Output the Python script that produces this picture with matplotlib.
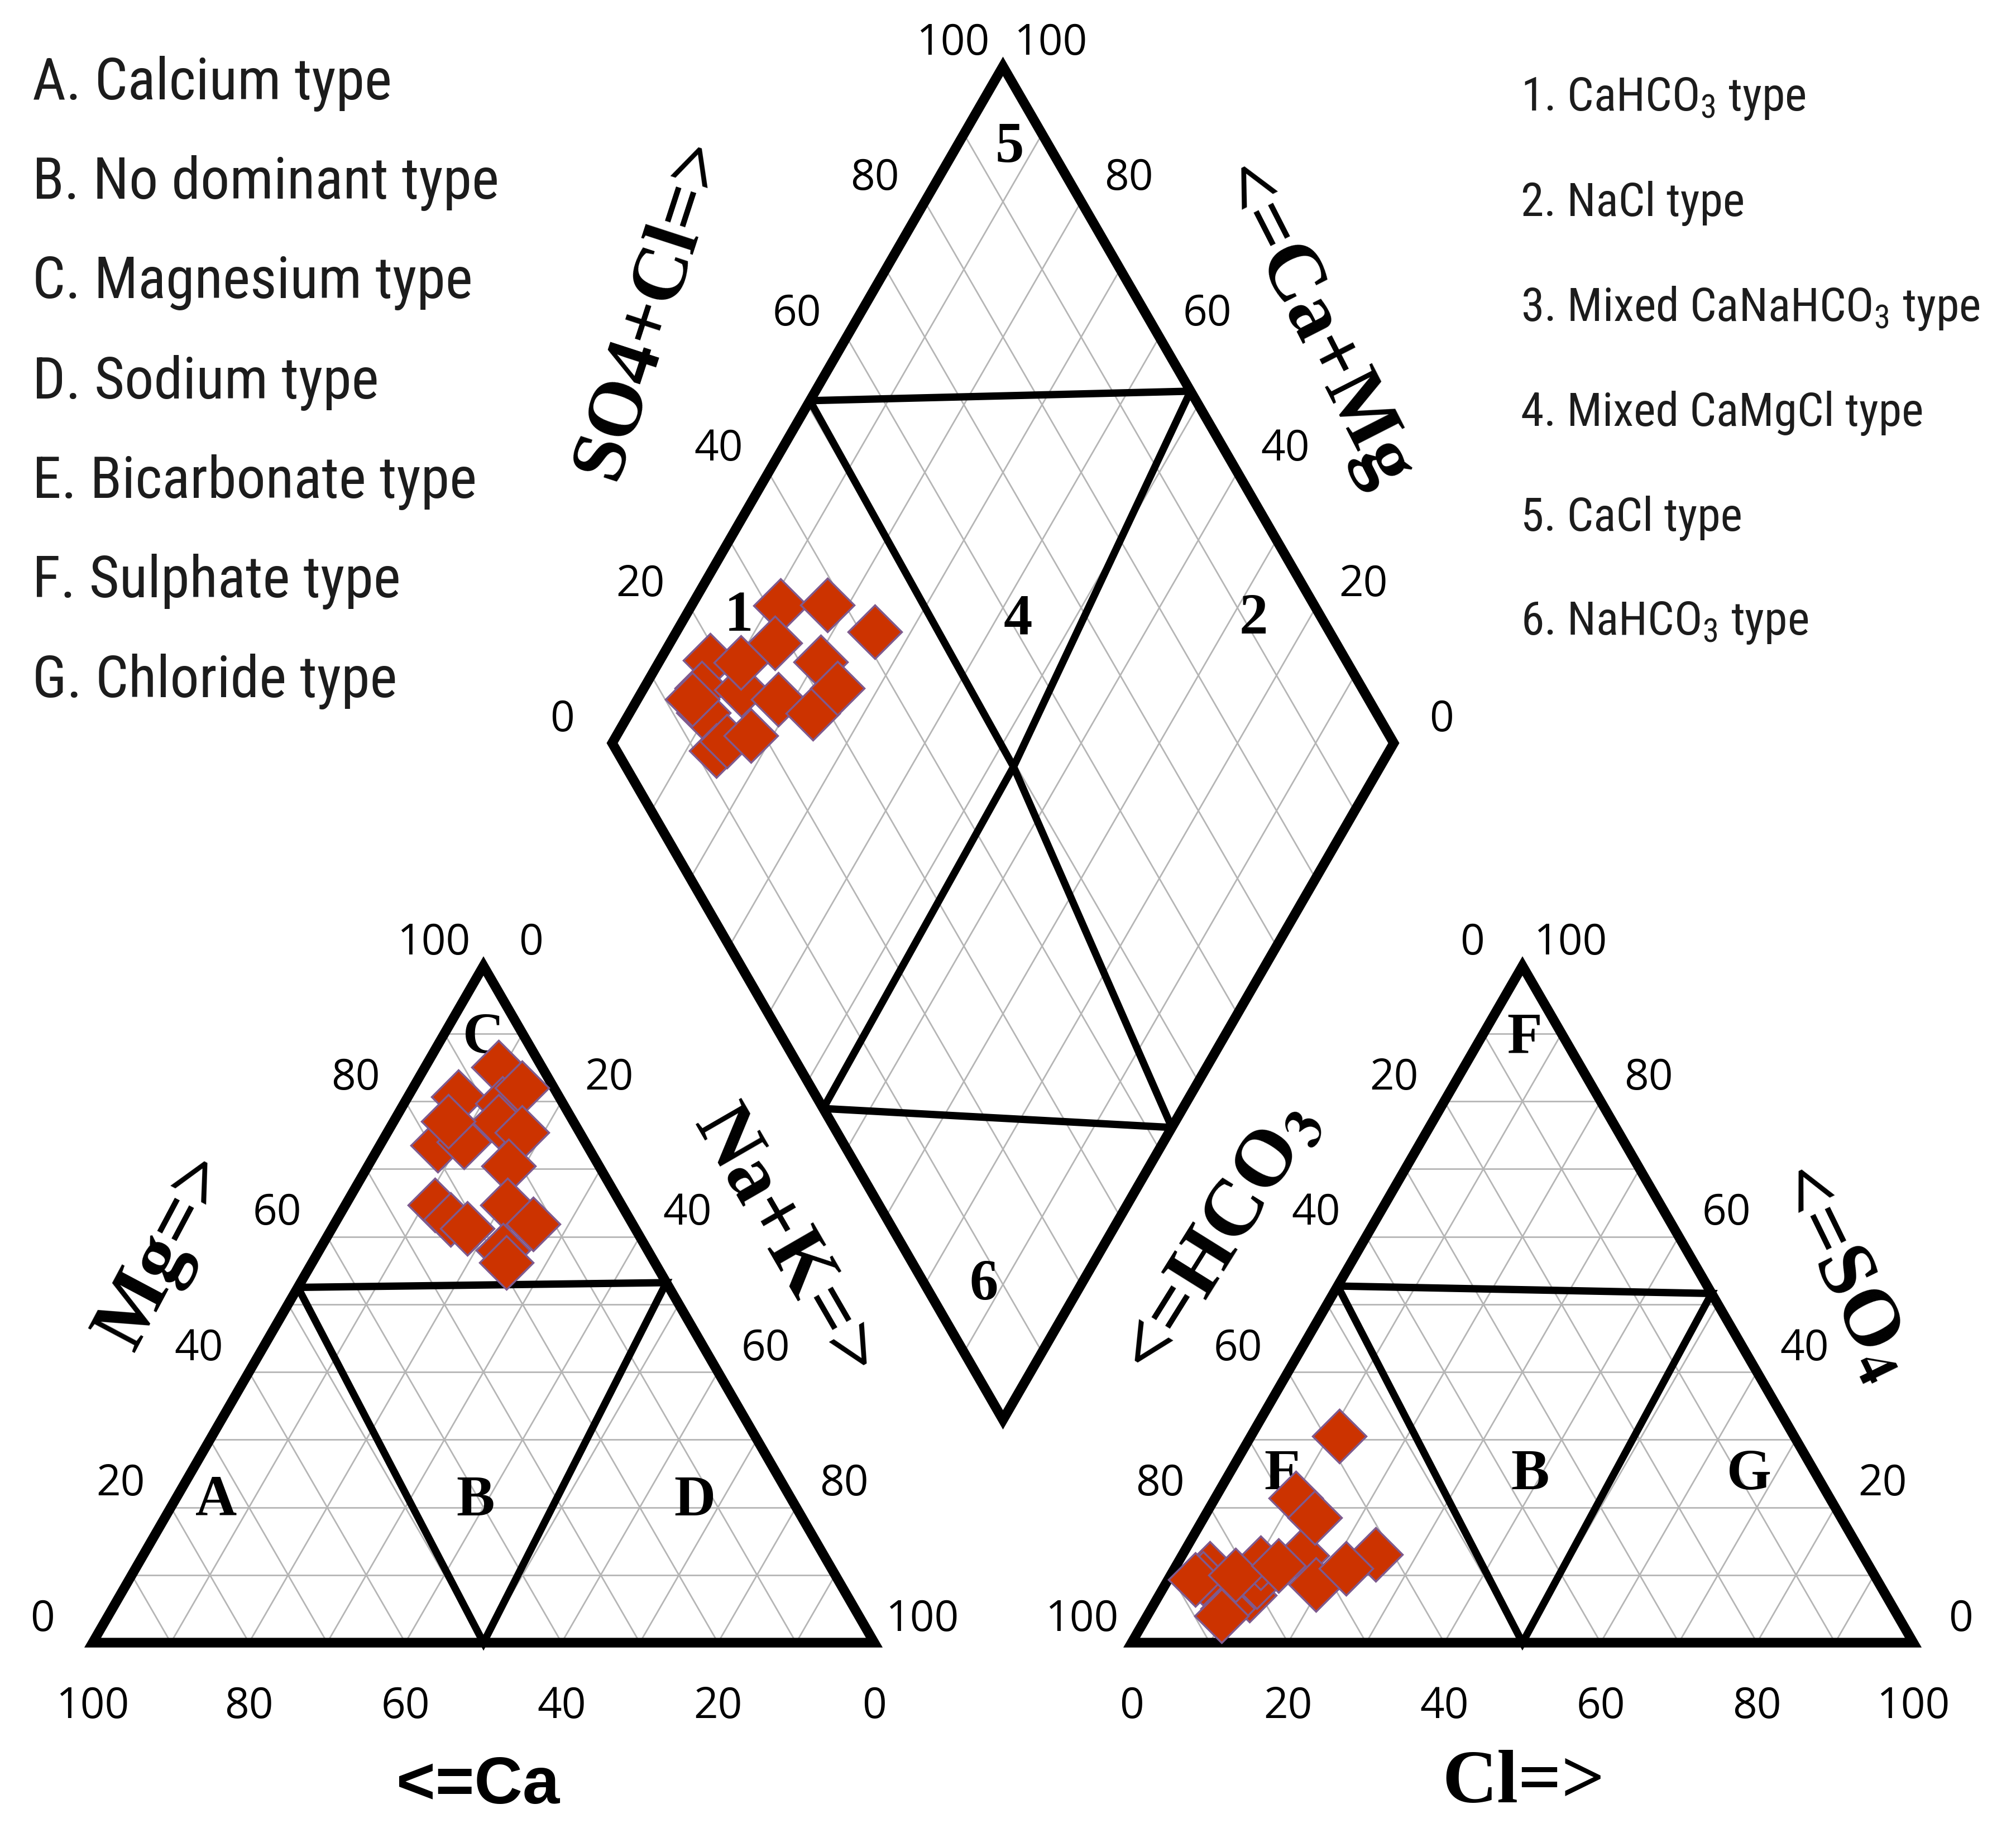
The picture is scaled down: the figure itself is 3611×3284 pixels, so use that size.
import numpy as np
import matplotlib
matplotlib.use("Agg")
import matplotlib.pyplot as plt
from matplotlib import font_manager as fm
from matplotlib.patches import Polygon

# ---------------- data: ionic composition (% of meq/L) ----------------
Ca   = [12.9, 19.1, 5.6, 23.9, 7.7, 9.6, 15.5, 4.1, 23.0, 7.4, 21.5, 11.6, 14.6, 16.0, 18.5, 19.0, 12.7]
Mg   = [80.7, 73.5, 85.0, 64.7, 79.7, 77.0, 74.0, 82.0, 62.5, 75.4, 61.2, 70.4, 64.7, 77.0, 58.0, 56.2, 61.9]
NaK  = [6.4, 7.4, 9.4, 11.4, 12.6, 13.4, 10.5, 13.9, 14.5, 17.2, 17.3, 18.0, 20.7, 7.0, 23.5, 24.8, 25.4]
HCO3 = [81.4, 84.5, 86.1, 68.3, 79.5, 71.8, 77.6, 87.2, 85.2, 81.7, 62.3, 75.5, 67.3, 86.5, 72.1, 67.1, 58.2]
SO4  = [7.0, 11.0, 9.5, 21.4, 9.0, 12.9, 11.8, 9.3, 5.0, 10.0, 13.0, 11.4, 18.5, 4.0, 8.6, 11.0, 30.5]
Cl   = [11.6, 4.5, 4.4, 10.3, 11.5, 15.3, 10.6, 3.5, 9.8, 8.3, 24.7, 13.1, 14.2, 9.5, 19.3, 21.9, 11.3]

tick_values = [0, 20, 40, 60, 80, 100]

# boundaries of the hydrochemical facies as drawn in the figure (%)
cat_split_left, cat_split_right = 52.5, 53.2      # Mg on left / right edge
an_split_left, an_split_right = 52.7, 51.6        # SO4 on left / right edge
dia_top_left_s, dia_top_right_camg = 50.6, 52.0
dia_cross_n, dia_cross_s = 53.1, 49.6
dia_bot_left_n, dia_bot_right_s = 54.0, 43.2

legend_left = ["A. Calcium type", "B. No dominant type", "C. Magnesium type",
               "D. Sodium type", "E. Bicarbonate type", "F. Sulphate type",
               "G. Chloride type"]
legend_right = ["1. CaHCO$_3$ type", "2. NaCl type", "3. Mixed CaNaHCO$_3$ type",
                "4. Mixed CaMgCl type", "5. CaCl type", "6. NaHCO$_3$ type"]

# ---------------- fonts ----------------
entries = fm.fontManager.ttflist
narrow_family, narrow_stretch = None, "normal"
for key in ("Liberation Sans Narrow", "Roboto Condensed", "Open Sans Condensed",
            "Noto Sans Condensed", "DejaVu Sans Condensed"):
    if any(f.name == key for f in entries):
        narrow_family = key
        break
if narrow_family is None:
    for f in entries:
        if ("Narrow" in f.name or "Condensed" in f.name) and f.style == "normal":
            narrow_family = f.name
            break
if narrow_family is None:
    for pref in ("DejaVu Sans", "Noto Sans", "Open Sans", "Roboto"):
        hit = [f for f in entries if f.name == pref and f.stretch in
               ("condensed", "semi-condensed", "extra-condensed")
               and f.style == "normal" and f.weight in (400, "normal", "regular", "book")]
        if hit:
            narrow_family, narrow_stretch = pref, hit[0].stretch
            break
if narrow_family is None:
    narrow_family = "Liberation Sans"

NARROW = dict(family=narrow_family, stretch=narrow_stretch)
pattern = narrow_family if narrow_stretch == "normal" else f"{narrow_family}:{narrow_stretch}"
plt.rcParams["mathtext.fontset"] = "custom"
plt.rcParams["mathtext.rm"] = pattern
plt.rcParams["mathtext.it"] = pattern
plt.rcParams["mathtext.bf"] = pattern + ":bold"
SERIF = "Liberation Serif"
TICKF = "Open Sans"

# ---------------- geometry ----------------
S3 = np.sqrt(3) / 2
GAP = 32.93


def cat_xy(na, mg):
    na = np.asarray(na, float); mg = np.asarray(mg, float)
    return na + mg / 2, mg * S3


def an_xy(cl, so4):
    cl = np.asarray(cl, float); so4 = np.asarray(so4, float)
    return 100 + GAP + cl + so4 / 2, so4 * S3


BX, BY = 100 + GAP / 2, GAP * S3
LX, LY = BX - 50, BY + 100 * S3


def dia_xy(n, s):
    n = np.asarray(n, float); s = np.asarray(s, float)
    return LX + 0.5 * (n + s), LY + S3 * (s - n)


fig = plt.figure(figsize=(36.11, 32.84), dpi=100)
ax = fig.add_axes([0, 0, 1, 1])
ax.set_xlim(-166 / 14, (3611 - 166) / 14)
ax.set_ylim(-(3284 - 2943) / 14, 2943 / 14)
ax.axis("off")
renderer = fig.canvas.get_renderer()

GRID = dict(color="#b5b5b5", lw=2.0, zorder=1)
BOUND = dict(color="black", lw=9.5, zorder=3, solid_capstyle="round")
OUTLW = 12.5

# ---------------- grids ----------------
for k in range(10, 100, 10):
    for f in (cat_xy, an_xy):
        x, y = f([0, 100 - k], [k, k]); ax.plot(x, y, **GRID)
        x, y = f([k, k], [0, 100 - k]); ax.plot(x, y, **GRID)
        x, y = f([100 - k, 0], [0, 100 - k]); ax.plot(x, y, **GRID)
    x, y = dia_xy([k, k], [0, 100]); ax.plot(x, y, **GRID)
    x, y = dia_xy([0, 100], [k, k]); ax.plot(x, y, **GRID)

# ---------------- outlines ----------------
for f in (cat_xy, an_xy):
    x, y = f([0, 100, 0], [0, 0, 100])
    ax.add_patch(Polygon(np.column_stack([x, y]), closed=True, fill=False,
                         lw=OUTLW, ec="black", joinstyle="miter", zorder=4))
x, y = dia_xy([0, 100, 100, 0], [0, 0, 100, 100])
ax.add_patch(Polygon(np.column_stack([x, y]), closed=True, fill=False,
                     lw=OUTLW, ec="black", joinstyle="miter", zorder=4))

# ---------------- facies boundaries ----------------
x, y = cat_xy([0, 100 - cat_split_right, 50, 0],
              [cat_split_left, cat_split_right, 0, cat_split_left])
ax.plot(x, y, solid_joinstyle="miter", **BOUND)
x, y = an_xy([0, 100 - an_split_right, 50, 0],
             [an_split_left, an_split_right, 0, an_split_left])
ax.plot(x, y, solid_joinstyle="miter", **BOUND)
x, y = dia_xy([0, 100 - dia_top_right_camg], [dia_top_left_s, 100]); ax.plot(x, y, **BOUND)
x, y = dia_xy([0, dia_cross_n, 100], [dia_top_left_s, dia_cross_s, dia_bot_right_s]); ax.plot(x, y, **BOUND)
x, y = dia_xy([100 - dia_top_right_camg, dia_cross_n, dia_bot_left_n], [100, dia_cross_s, 0]); ax.plot(x, y, **BOUND)
x, y = dia_xy([dia_bot_left_n, 100], [0, dia_bot_right_s]); ax.plot(x, y, **BOUND)

# ---------------- tick labels ----------------
TK = dict(fontsize=55, family=TICKF, ha="center", va="center", zorder=6)
OFF_L = (-6.4, 2.95)
OFF_R = (6.1, 2.95)
for v in tick_values:
    x, y = cat_xy(100 - v, 0); ax.text(x, y - 8.2, str(v), **TK)                 # Ca
    x, y = cat_xy(0, v); ax.text(x + OFF_L[0], y + OFF_L[1], str(v), **TK)         # Mg
    x, y = cat_xy(v, 100 - v); ax.text(x + OFF_R[0], y + OFF_R[1], str(v), **TK)   # Na+K
    x, y = an_xy(v, 0); ax.text(x, y - 8.2, str(v), **TK)                          # Cl
    x, y = an_xy(0, 100 - v); ax.text(x + OFF_L[0], y + OFF_L[1], str(v), **TK)    # HCO3
    x, y = an_xy(100 - v, v); ax.text(x + OFF_R[0], y + OFF_R[1], str(v), **TK)    # SO4
    x, y = dia_xy(0, v); ax.text(x + OFF_L[0], y + OFF_L[1], str(v), **TK)         # SO4+Cl
    x, y = dia_xy(100 - v, 100); ax.text(x + OFF_R[0], y + OFF_R[1], str(v), **TK) # Ca+Mg

# ---------------- axis titles ----------------
AT = dict(fontsize=104, family=SERIF, fontweight="bold", ha="center", va="center",
          zorder=6, math_fontfamily="stix")
ax.text(49.3, -18.4, "<=Ca", fontsize=86, family="Liberation Sans", fontweight="bold",
        ha="center", va="center", zorder=6)
ax.text(183.1, -18.1, "Cl=>", **{**AT, "fontsize": 98})
ax.text(9.4, 50.0, "Mg=>", rotation=62, **AT)
ax.text(88.5, 51.1, "Na+K=>", rotation=-60, **AT)
ax.text(71.5, 170.7, "SO4+Cl=>", rotation=72, **{**AT, "fontsize": 100})
ax.text(155.9, 168.3, "<=Ca+Mg", rotation=-63, **AT)
ax.text(144.4, 51.5, r"<=HCO$_\mathbf{3}$", rotation=58, **AT)
ax.text(223.7, 47.4, r"<=SO$_\mathbf{4}$", rotation=-64, **AT)

# ---------------- region labels ----------------
RL = dict(fontsize=74, family=SERIF, fontweight="bold", ha="center", va="center", zorder=3.5)
for txt, (x, y) in {"A": (15.8, 18.1), "B": (49.0, 18.1), "D": (77.0, 18.1),
                    "C": (50.0, 77.3)}.items():
    ax.text(x, y, txt, **RL)
for txt, (x, y) in {"E": (152.3, 21.4), "B": (183.9, 21.4), "G": (211.9, 21.4),
                    "F": (183.2, 77.3)}.items():
    ax.text(x, y, txt, **RL)
for txt, (x, y) in {"5": (117.3, 191.3), "1": (82.7, 131.3), "4": (118.4, 130.9),
                    "2": (148.5, 130.9), "6": (114.0, 45.7)}.items():
    ax.text(x, y, txt, **RL)

# ---------------- legends (size fitted to the reference line widths) ----------------
def fitted_size(text, target_px, start=80, **kw):
    t = ax.text(0, 0, text, fontsize=start, **kw)
    w = t.get_window_extent(renderer).width
    t.remove()
    return start * target_px / w


size_l = min(fitted_size(legend_left[1], 836, **NARROW), 84)
size_r = min(fitted_size(legend_right[2], 822, math_fontfamily="custom", **NARROW), 80)

for i, t in enumerate(legend_left):
    ax.text(-7.74, 199.5 - 12.75 * i, t, fontsize=size_l, color="#1c1c1c",
            ha="left", va="center", zorder=6, **NARROW)
for i, t in enumerate(legend_right):
    ax.text(182.7, 197.6 - 13.42 * i, t, fontsize=size_r, color="#1c1c1c",
            ha="left", va="center", zorder=6, math_fontfamily="custom", **NARROW)

# ---------------- samples ----------------
MK = dict(ls="none", marker="D", ms=49, mfc="#cc3300", mec="#7e5a8e", mew=2.5, zorder=5)
x, y = cat_xy(NaK, Mg); ax.plot(x, y, **MK)
x, y = an_xy(Cl, SO4); ax.plot(x, y, **MK)
x, y = dia_xy(NaK, np.asarray(SO4) + np.asarray(Cl)); ax.plot(x, y, **MK)

fig.savefig("out.png", dpi=100, facecolor="white")
